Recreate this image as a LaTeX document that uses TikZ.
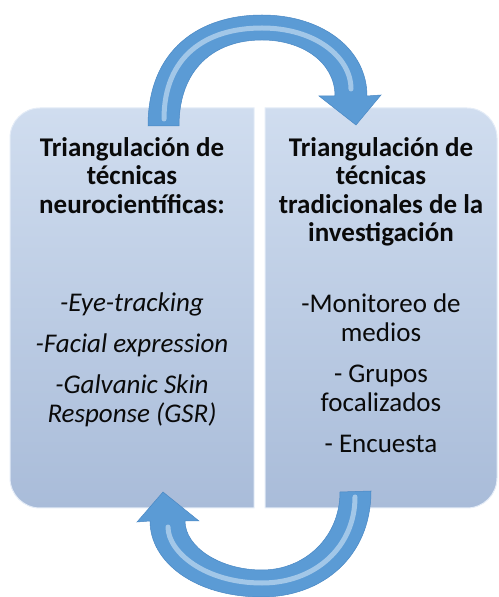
\documentclass[tikz,border=0pt]{standalone}
\usepackage{fontspec}
\setmainfont{Carlito}
\usepackage{xcolor}
\definecolor{ink}{HTML}{0A0A0A}
\definecolor{paneltop}{HTML}{D0DDEF}
\definecolor{panelbot}{HTML}{A9BCD9}
\definecolor{paneledge}{HTML}{E4ECF7}
\definecolor{loop}{HTML}{5B9BD5}
\definecolor{loopdark}{HTML}{4A88C4}
\definecolor{shine}{HTML}{EAF3FB}
\usetikzlibrary{positioning}
\tikzset{
  panel/.style={top color=paneltop,bottom color=panelbot,draw=paneledge,line width=1pt},
  cyc/.style={fill=loop,draw=loopdark,line width=0.5pt},
  gloss/.style={draw=shine,line width=5pt,opacity=0.5,line cap=round},
  head/.style={font=\bfseries\fontsize{27}{28.5}\selectfont,align=center,inner sep=0pt,text=ink,anchor=north},
  item/.style={font=\fontsize{27}{29}\selectfont,align=center,inner sep=0pt,text=ink,anchor=north},
}

\begin{document}
\begin{tikzpicture}[x=1pt,y=1pt]
  \useasboundingbox (0,0) rectangle (498,597);

  \shade[panel] (254,89) -- (254,489) -- (40,489) arc[start angle=90,end angle=180,radius=30]
    -- (10,119) arc[start angle=180,end angle=270,radius=30] -- cycle;
  \shade[panel] (265,89) -- (265,489) -- (467,489) arc[start angle=90,end angle=0,radius=30]
    -- (497,119) arc[start angle=0,end angle=-90,radius=30] -- cycle;

  \fill[cyc] (148,471) .. controls (148,548) and (200,582) .. (262,582)
    .. controls (322,582) and (367,548) .. (367,501) -- (381,502) -- (356,472) -- (319,501) -- (335,501)
    .. controls (335,535) and (302,557) .. (262,557) .. controls (214,557) and (179,528) .. (179,471) -- cycle;
  \draw[gloss] (164,478) .. controls (164,540) and (205,569) .. (262,569) .. controls (315,569) and (351,540) .. (351,508);

  \fill[cyc] (371,106) .. controls (371,40) and (322,0) .. (262,0)
    .. controls (195,0) and (150,35) .. (150,76) -- (137,75) -- (163,105) -- (199,76) -- (185,76)
    .. controls (185,50) and (220,27) .. (262,27) .. controls (305,27) and (340,60) .. (340,105) -- cycle;
  \draw[gloss] (355,100) .. controls (355,50) and (315,14) .. (262,14) .. controls (205,14) and (168,45) .. (168,70);

  \node[head] (neurohead) at (132,460) {Triangulación de\\técnicas\\neurocientíficas:};
  \node[item] (neuroitems) at (132,304) {\itshape -Eye-tracking\\[12pt]\itshape -Facial expression\\[12pt]\itshape -Galvanic Skin\\\itshape Response (GSR)};

  \node[head] (tradhead) at (381,460) {Triangulación de\\técnicas\\tradicionales de la\\investigación};
  \node[item] (traditems) at (381,303) {-Monitoreo de\\medios\\[12pt]- Grupos\\focalizados\\[12pt]- Encuesta};
\end{tikzpicture}
\end{document}
